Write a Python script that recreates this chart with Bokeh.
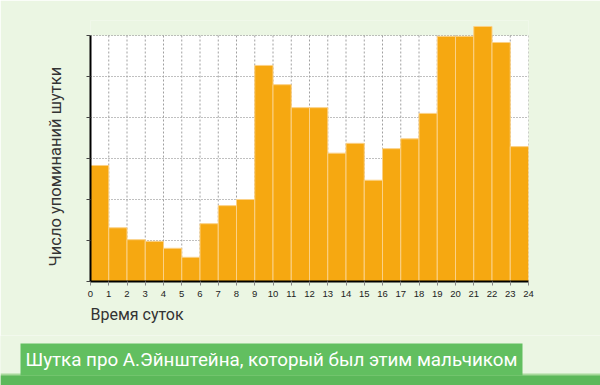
from bokeh.plotting import figure
from bokeh.layouts import column
from bokeh.models import Range1d, FixedTicker, ColumnDataSource, Title
from bokeh.embed import file_html
from bokeh.resources import INLINE
from bokeh.core.properties import value

# ---- data ----
hours = list(range(24))
mentions = [2.83, 1.31, 1.02, 0.98, 0.81, 0.59, 1.41, 1.85, 2.0, 5.27, 4.8, 4.24,
            4.24, 3.13, 3.37, 2.47, 3.24, 3.48, 4.1, 5.98, 5.98, 6.22, 5.83, 3.29]
x_ticks = list(range(25))
y_ticks = [0, 1, 2, 3, 4, 5, 6]
y_max = 6
x_label = "Время суток"
y_label = "Число упоминаний шутки"
title_text = "Шутка про А.Эйнштейна, который был этим мальчиком"

BG = "#ebf6e3"
BAR = "#f6a811"
FONT = "Roboto"

# ---------------- chart ----------------
p = figure(width=600, height=335, output_backend="svg", toolbar_location=None,
           x_range=Range1d(0, 24), y_range=Range1d(0, y_max + 15 / 41),
           min_border_left=90, min_border_right=72, min_border_top=20,
           min_border_bottom=54)
p.frame_align = False
p.background_fill_color = BG
p.border_fill_color = BG
p.outline_line_color = None
p.xgrid.visible = False
p.ygrid.visible = False

# white plotting area
p.quad(left=[x_ticks[0]], right=[x_ticks[-1]], bottom=[y_ticks[0]], top=[y_ticks[-1]],
       fill_color="white", line_color=None)

# dotted grid
p.segment(x0=[x_ticks[0]] * len(y_ticks[1:]), x1=[x_ticks[-1]] * len(y_ticks[1:]),
          y0=y_ticks[1:], y1=y_ticks[1:], line_color="#808080", line_dash="1 2", line_width=1)
p.segment(x0=x_ticks[1:], x1=x_ticks[1:], y0=[y_ticks[0]] * 24, y1=[y_ticks[-1]] * 24,
          line_color="#a0a0a0", line_dash="2 2", line_width=1)

# bars
src = ColumnDataSource(dict(left=hours, right=[h + 1 for h in hours], top=mentions))
p.quad(left="left", right="right", bottom=0, top="top", source=src,
       fill_color=BAR, line_color="#fbd186", line_width=1)

# axes
p.yaxis.ticker = FixedTicker(ticks=y_ticks)
p.yaxis.bounds = (y_ticks[0], y_ticks[-1])
p.yaxis.axis_line_width = 2
p.yaxis.axis_line_color = "black"
p.yaxis.major_tick_out = 4
p.yaxis.major_tick_in = 0
p.yaxis.major_tick_line_color = "#444444"
p.yaxis.minor_tick_line_color = None
p.yaxis.major_label_overrides = {t: "" for t in y_ticks}

p.xaxis.ticker = FixedTicker(ticks=x_ticks)
p.xaxis.axis_line_width = 2
p.xaxis.axis_line_color = "black"
p.xaxis.major_tick_out = 4
p.xaxis.major_tick_in = 0
p.xaxis.major_tick_line_color = "#888888"
p.xaxis.minor_tick_line_color = None
p.xaxis.major_label_text_font = "Liberation Sans"
p.xaxis.major_label_text_font_size = "9.5px"
p.xaxis.major_label_text_color = "#222222"
p.xaxis.major_label_standoff = 5

# axis titles (start-aligned like the reference)
p.add_layout(Title(text=y_label, align="left", offset=15, standoff=43,
                   text_font=FONT, text_font_size="16.5px", text_font_style="normal",
                   text_color="#333333"), "left")
p.add_layout(Title(text=x_label, align="left", offset=0, standoff=6,
                   text_font=FONT, text_font_size="16px", text_font_style="normal",
                   text_color="#333333"), "below")

# ---------------- caption strip ----------------
c = figure(width=600, height=50, output_backend="svg", toolbar_location=None,
           x_range=Range1d(0, 600), y_range=Range1d(50, 0),
           min_border=0, min_border_left=0, min_border_right=0,
           min_border_top=0, min_border_bottom=0)
c.frame_align = False
c.axis.visible = False
c.grid.visible = False
c.outline_line_color = None
c.background_fill_color = BG
c.background_fill_alpha = 1
c.border_fill_color = BG
c.border_fill_alpha = 1
c.quad(left=[0], right=[600], top=[0], bottom=[50], fill_color=BG, line_color=None)
c.quad(left=[0], right=[600], top=[38], bottom=[50], fill_color="#a8d99c", line_color=None)
c.quad(left=[0], right=[600], top=[40], bottom=[50], fill_color="#5cb85a", line_color=None)
c.quad(left=[20], right=[522], top=[8], bottom=[40], fill_color="#62bf60", line_color=None)
c.text(x=[25], y=[24], text=[title_text], text_font=value(FONT), text_font_size="18.8px",
       text_color="white", text_align="left", text_baseline="middle")

layout = column(p, c, spacing=0)
html = file_html(layout, INLINE)
html = html.replace("<body>", '<body style="margin:0;background:%s">' % BG, 1)
open("out.html", "w").write(html)
